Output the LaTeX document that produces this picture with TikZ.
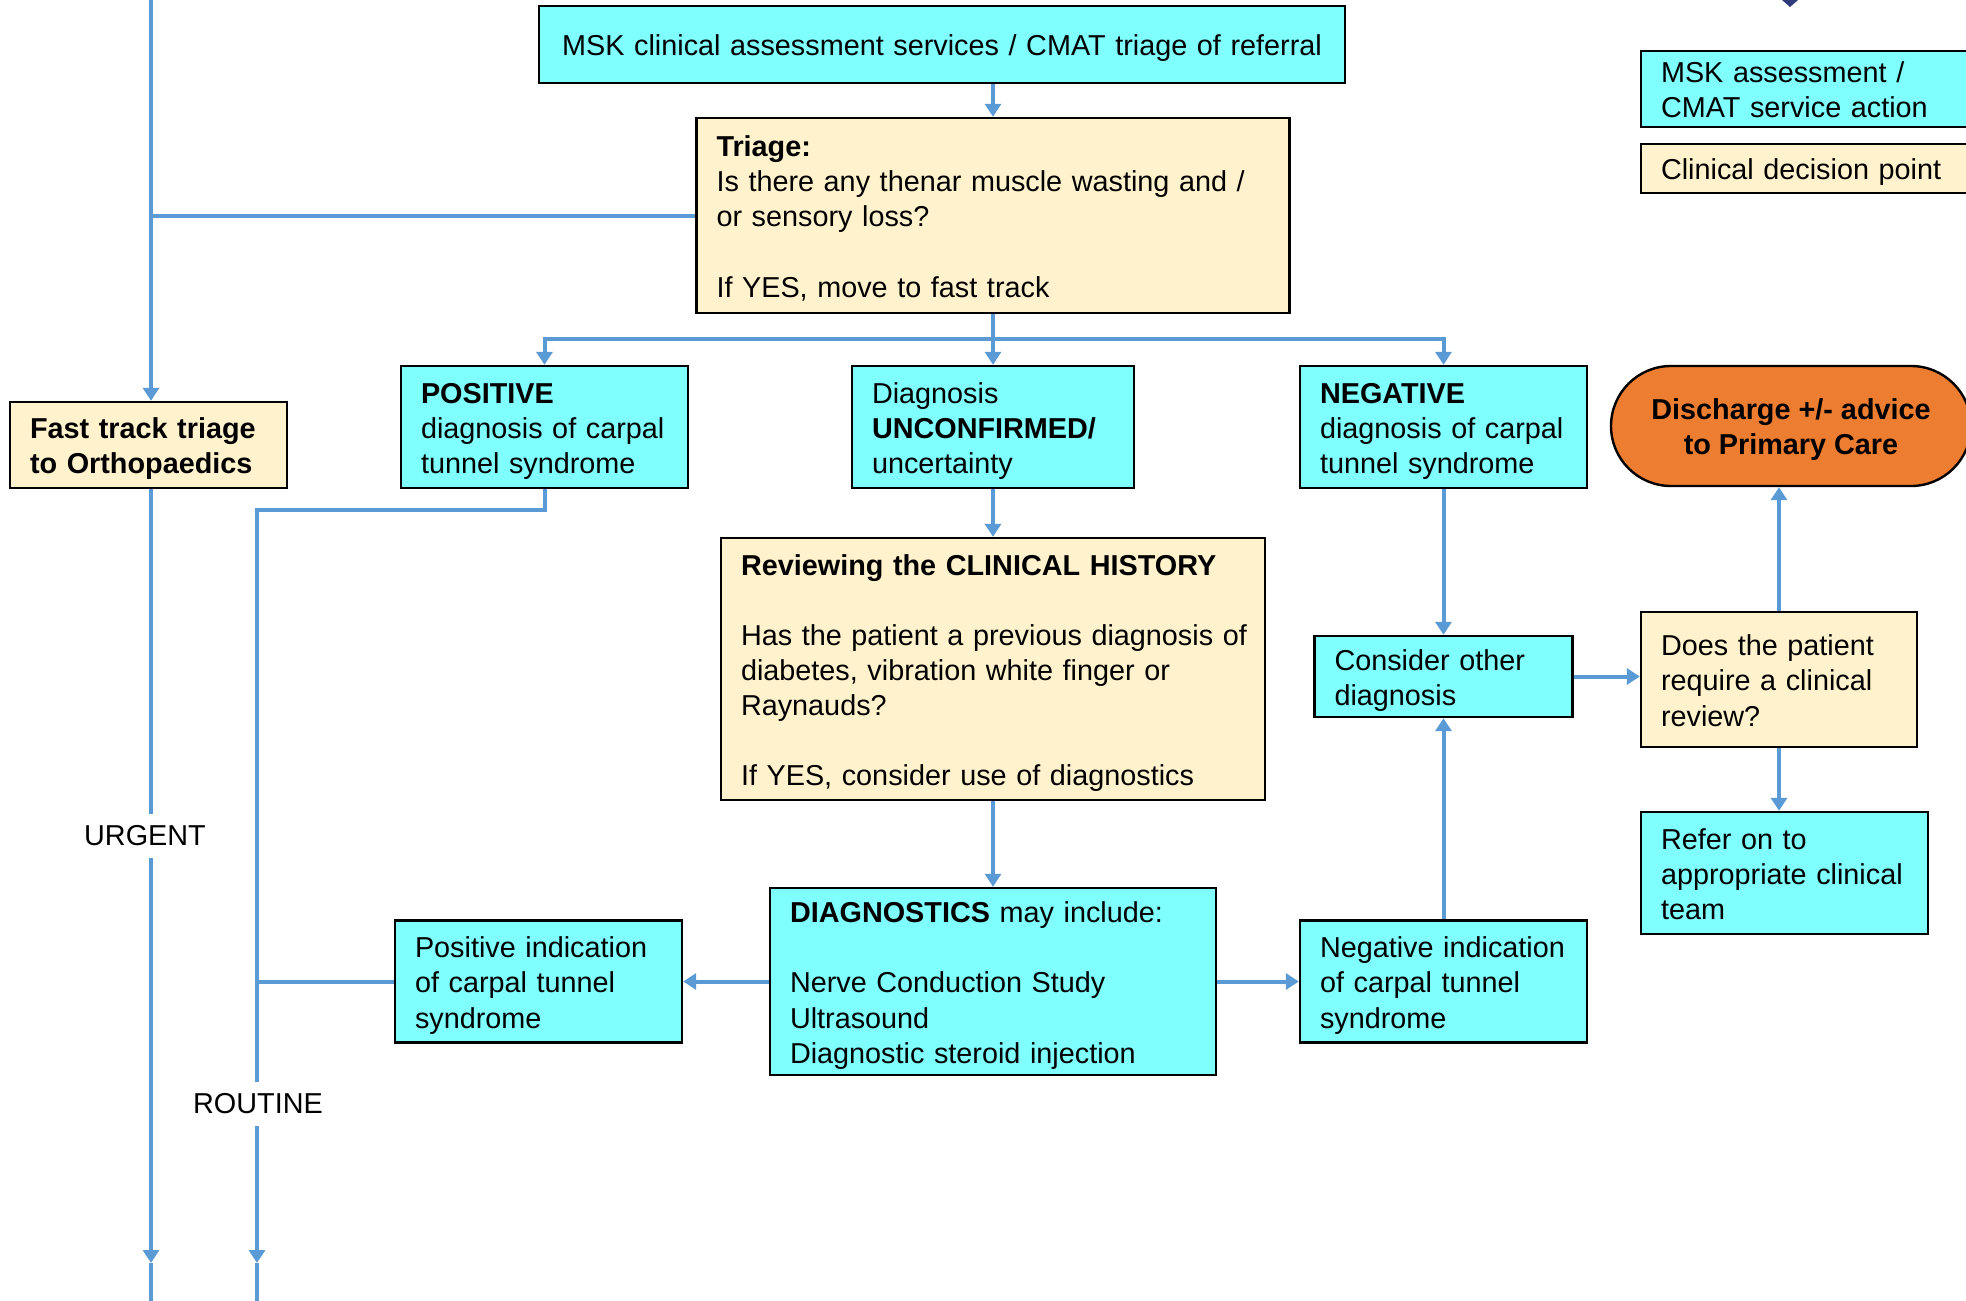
\documentclass[tikz,border=0pt]{standalone}
\usepackage{fontspec}
\setmainfont{Liberation Sans}
\usetikzlibrary{arrows.meta,shapes.misc}
\definecolor{boxcyan}{HTML}{80FFFF}
\definecolor{boxcream}{HTML}{FFF2CC}
\definecolor{lineblue}{HTML}{5B9BD5}
\definecolor{dischargeorange}{HTML}{ED7D31}
\definecolor{marknavy}{HTML}{2F3A7A}
\newcommand\tl[1]{\raisebox{-2.2pt}[\height][\depth]{\begin{tabular}{@{}l@{}}#1\end{tabular}}}
\newcommand\tlc[1]{\raisebox{-2.2pt}[\height][\depth]{\begin{tabular}{@{}c@{}}#1\end{tabular}}}
\begin{document}
\begin{tikzpicture}[x=0.5pt,y=-0.5pt,
 every node/.style={font=\fontsize{14.4}{17.55}\selectfont},
 base/.style={draw=black, line width=1.2pt, inner xsep=10pt, inner ysep=0pt, align=left},
 action/.style={base, fill=boxcyan},
 decision/.style={base, fill=boxcream},
 conn/.style={draw=lineblue, line width=2pt},
 arr/.style={conn, -{Triangle[width=8pt,length=6.5pt]}},
 lbl/.style={fill=white, inner xsep=2pt, inner ysep=6pt},
]
\useasboundingbox (0,0) rectangle (1966,1301);
\clip (0,0) rectangle (1966,1301);
\fill[white] (0,0) rectangle (1966,1301);

% top-right cut-off mark
\fill[marknavy] (1782,0) -- (1798,0) -- (1790,7) -- cycle;

% nodes
\node[action, minimum width=403pt, minimum height=38.5pt, text width=383pt, align=center] (top) at (942,44.5)
  {\tlc{MSK clinical assessment services / CMAT triage of referral}};
\node[decision, minimum height=97.5pt, text width=276.5pt] (triage) at (993,215.5)
  {\tl{\textbf{Triage:}\\Is there any thenar muscle wasting and /\\or sensory loss?\\ \\If YES, move to fast track}};
\node[action, minimum height=38pt, text width=149.5pt] (legA) at (1810.5,89)
  {\tl{MSK assessment /\\CMAT service action}};
\node[decision, minimum height=24.5pt, text width=149.5pt] (legB) at (1810.5,168.5)
  {\tl{Clinical decision point}};
\node[decision, minimum height=43pt, text width=118.5pt] (fast) at (148.5,445)
  {\tl{\textbf{Fast track triage}\\\textbf{to Orthopaedics}}};
\node[action, minimum height=61pt, text width=123.5pt] (pos) at (544.5,427)
  {\tl{\textbf{POSITIVE}\\diagnosis of carpal\\tunnel syndrome}};
\node[action, minimum height=61pt, text width=121pt] (unc) at (993,427)
  {\tl{Diagnosis\\\textbf{UNCONFIRMED/}\\uncertainty}};
\node[action, minimum height=61pt, text width=123.5pt] (neg) at (1443.5,427)
  {\tl{\textbf{NEGATIVE}\\diagnosis of carpal\\tunnel syndrome}};
\node[draw=black, line width=1.2pt, fill=dischargeorange, rounded rectangle, minimum width=180pt, minimum height=60pt,
  inner xsep=0pt, align=center, font=\fontsize{14.4}{17.55}\selectfont\bfseries] (dis) at (1791,426)
  {\tlc{Discharge +/- advice\\to Primary Care}};
\node[decision, minimum height=131pt, text width=252pt] (rev) at (993,669)
  {\tl{\textbf{Reviewing the CLINICAL HISTORY}\\ \\Has the patient a previous diagnosis of\\diabetes, vibration white finger or\\Raynauds?\\ \\If YES, consider use of diagnostics}};
\node[action, minimum height=40.5pt, text width=109pt] (cons) at (1443.5,676.5)
  {\tl{Consider other\\diagnosis}};
\node[decision, minimum height=67.5pt, text width=118pt] (does) at (1779,679.5)
  {\tl{Does the patient\\require a clinical\\review?}};
\node[action, minimum height=61pt, text width=123.5pt] (refer) at (1784.5,873)
  {\tl{Refer on to\\appropriate clinical\\team}};
\node[action, minimum height=93.5pt, text width=203pt] (diag) at (993,981.5)
  {\tl{\textbf{DIAGNOSTICS} may include:\\ \\Nerve Conduction Study\\Ultrasound\\Diagnostic steroid injection}};
\node[action, minimum height=61pt, text width=123.5pt] (posind) at (538.5,981.5)
  {\tl{Positive indication\\of carpal tunnel\\syndrome}};
\node[action, minimum height=61pt, text width=123.5pt] (negind) at (1443.5,981.5)
  {\tl{Negative indication\\of carpal tunnel\\syndrome}};

% coordinates
\coordinate (topL) at (151,0);
\coordinate (split) at (993,339);
\coordinate (rj) at (257,510);
\coordinate (rTip) at (257,1263);
\coordinate (rEnd) at (257,1301);
\coordinate (uTip) at (151,1263);
\coordinate (uEnd) at (151,1301);

% connectors
\draw[arr] (topL) -- (topL |- fast.north);
\draw[conn] (triage.west) -- (triage.west -| topL);
\draw[arr] (triage.north |- top.south) -- (triage.north);
\draw[conn] (triage.south) -- (split);
\draw[arr] (split) -| (pos.north);
\draw[arr] (split) -| (neg.north);
\draw[arr] (split) -- (unc.north);
\draw[arr] (unc.south) -- (rev.north);
\draw[arr] (rev.south) -- (diag.north);
\draw[arr] (diag.west) -- (posind.east);
\draw[arr] (diag.east) -- (negind.west);
\draw[arr] (neg.south) -- (cons.north);
\draw[arr] (negind.north) -- (cons.south);
\draw[arr] (cons.east) -- (cons.east -| does.west);
\draw[arr] (does.north) -- (does.north |- dis.south);
\draw[arr] (does.south) -- (does.south |- refer.north);
\draw[arr] (pos.south) |- (rj) -- (rTip);
\draw[conn] (rTip) -- (rEnd);
\draw[conn] (posind.west) -- (posind.west -| rj);
\draw[arr] (uTip |- fast.south) -- (uTip);
\draw[conn] (uTip) -- (uEnd);

% labels
\node[lbl] (urgent) at (145,836) {URGENT};
\node[lbl] (routine) at (258,1104) {ROUTINE};
\end{tikzpicture}
\end{document}
